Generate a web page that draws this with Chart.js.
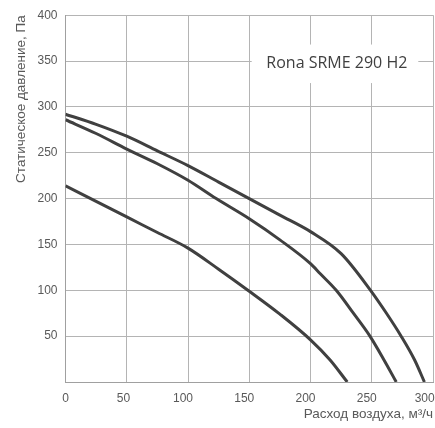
<!DOCTYPE html>
<html>
<head>
<meta charset="utf-8">
<script src="https://cdn.jsdelivr.net/npm/chart.js@4"></script>
<style>
  html, body { margin: 0; padding: 0; background: #fff; }
</style>
</head>
<body>
<canvas id="myChart" width="435" height="428"></canvas>
<script>
// curve data: flow (m3/h) -> static pressure (Pa)
const flowA = [0, 25, 50, 75, 100, 125, 150, 175, 200, 225, 249, 262, 274, 285, 293];
const presA = [292, 281, 268, 252, 236, 218, 200, 182, 164, 140, 100, 75, 50, 24, 0];

const flowB = [0, 25, 50, 75, 100, 123, 150, 175, 200, 208, 221, 235, 248.5, 260, 270];
const presB = [286, 271, 254, 238, 220, 200, 178, 155, 129, 118, 100, 75, 50, 24, 0];

const flowC = [0, 25, 50, 75, 100, 125, 150, 175, 200, 216, 230];
const presC = [214, 197, 180, 163, 146, 123, 99, 74, 46, 24, 0];

const modelName = 'Rona SRME 290 H2';
const xTitle = 'Расход воздуха, м³/ч';
const yTitle = 'Статическое давление, Па';

function toPoints(xs, ys) {
  return xs.map(function(x, i) {
    return { x: x, y: ys[i] };
  });
}

function curve(xs, ys) {
  return {
    data: toPoints(xs, ys),
    borderColor: '#404040',
    borderWidth: 3,
    pointRadius: 0,
    fill: false,
    cubicInterpolationMode: 'monotone'
  };
}

// white label box with the model name, placed in data units
const labelBox = {
  id: 'labelBox',
  afterDatasetsDraw: function(chart) {
    const x = chart.scales.x;
    const y = chart.scales.y;
    const ctx = chart.ctx;
    const l = x.getPixelForValue(152);
    const r = x.getPixelForValue(288);
    const t = y.getPixelForValue(368);
    const b = y.getPixelForValue(326);
    ctx.save();
    ctx.fillStyle = '#ffffff';
    ctx.fillRect(l, t, r - l, b - t);
    ctx.fillStyle = '#404040';
    ctx.font = '16px "Open Sans"';
    ctx.textAlign = 'center';
    ctx.textBaseline = 'middle';
    ctx.fillText(modelName, x.getPixelForValue(221.5), y.getPixelForValue(347));
    ctx.restore();
  }
};

const tickFont = { family: '"Liberation Sans", Arial', size: 12 };
const titleFont = { family: '"Liberation Sans", Arial', size: 13.5 };

const ctx = document.getElementById('myChart').getContext('2d');
const chart = new Chart(ctx, {
  type: 'line',
  data: {
    datasets: [curve(flowA, presA), curve(flowB, presB), curve(flowC, presC)]
  },
  options: {
    responsive: false,
    animation: false,
    devicePixelRatio: 1,
    layout: { padding: { top: 15, right: 2, left: 0, bottom: 0 } },
    plugins: {
      legend: { display: false },
      tooltip: { enabled: false }
    },
    scales: {
      x: {
        type: 'linear',
        min: 0,
        max: 300,
        grid: { color: '#b4b4b4', drawTicks: false },
        border: { color: '#a0a0a0' },
        ticks: {
          stepSize: 50,
          padding: 9,
          color: '#595959',
          font: tickFont,
          // labels in the picture sit a little left of their grid lines
          callback: function(v) {
            const pad = v === 300 ? 5 : v >= 100 ? 3 : v > 0 ? 2 : 0;
            return v + ' '.repeat(pad);
          }
        },
        title: {
          display: true,
          text: xTitle,
          align: 'end',
          color: '#595959',
          font: titleFont,
          padding: { top: 0, bottom: 6 }
        },
        afterFit: function(scale) {
          scale.height = 46;
          scale.paddingRight = 0;
        }
      },
      y: {
        min: 0,
        max: 400,
        grid: { color: '#b4b4b4', drawTicks: false },
        border: { color: '#a0a0a0' },
        ticks: {
          stepSize: 50,
          padding: 8,
          color: '#595959',
          font: tickFont,
          callback: function(v) { return v === 0 ? '' : v; }
        },
        title: {
          display: true,
          text: yTitle,
          align: 'end',
          color: '#595959',
          font: titleFont,
          padding: { top: 13, bottom: 0 }
        },
        afterFit: function(scale) { scale.width = 65.5; }
      }
    }
  },
  plugins: [labelBox]
});
</script>
</body>
</html>
